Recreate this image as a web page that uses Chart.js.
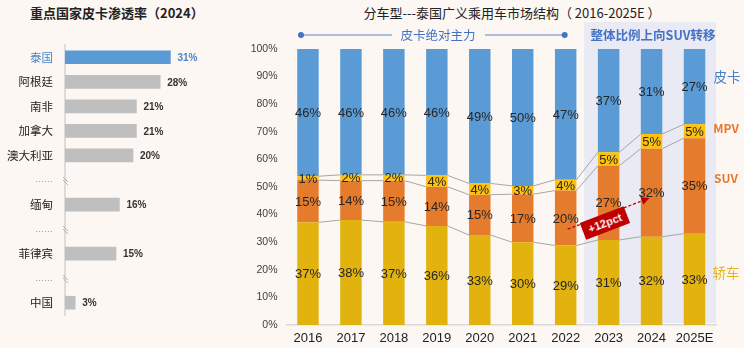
<!DOCTYPE html>
<html>
<head>
<meta charset="utf-8">
<script src="https://cdn.jsdelivr.net/npm/chart.js@4.4.1/dist/chart.umd.min.js"></script>
<style>
  html, body { margin: 0; padding: 0; background: #fdf7f3; }
  body { width: 744px; height: 348px; position: relative; overflow: hidden;
         font-family: "Noto Sans CJK SC", "Liberation Sans", sans-serif; }
  .abs { position: absolute; white-space: nowrap; line-height: 1; }
  #leftWrap { position: absolute; left: 0; top: 0; width: 240px; height: 348px; }
  #rightWrap { position: absolute; left: 240px; top: 0; width: 504px; height: 348px; }
  .side { font-size: 13.5px; transform: translate(-50%, -50%); }
</style>
</head>
<body>
<div class="abs" style="left:30px;top:6px;font-size:13px;font-weight:bold;color:#222;">重点国家皮卡渗透率（2024）</div>
<div class="abs" style="left:512px;top:6px;font-size:13px;color:#222;transform:translateX(-50%);">分车型---泰国广义乘用车市场结构（ 2016-2025E ）</div>

<div id="leftWrap"><canvas id="left"></canvas></div>
<div id="rightWrap"><canvas id="right"></canvas></div>

<div class="abs" style="left:438px;top:35px;font-size:12.5px;color:#4472c4;transform:translate(-50%,-50%);">皮卡绝对主力</div>
<div class="abs" style="left:653px;top:35px;font-size:12.5px;font-weight:bold;color:#4472c4;transform:translate(-50%,-50%);">整体比例上向SUV转移</div>

<div class="abs side" style="left:727px;top:77px;color:#4a7fc1;">皮卡</div>
<div class="abs side" style="left:726px;top:128px;color:#e8772e;font-weight:bold;font-size:12px;">MPV</div>
<div class="abs side" style="left:726px;top:178px;color:#e8772e;font-weight:bold;font-size:12px;">SUV</div>
<div class="abs side" style="left:726px;top:273px;color:#e6b31e;">轿车</div>

<div class="abs" style="left:605px;top:223px;transform:translate(-50%,-50%) rotate(-21deg);background:#c00000;color:#fff;font:bold 11px 'Liberation Sans',sans-serif;padding:3px 6px;">+12pct</div>

<script>
// left panel: pickup penetration 2024
const countries = ['泰国', '阿根廷', '南非', '加拿大', '澳大利亚', '……', '缅甸', '……', '菲律宾', '……', '中国'];
const penetration = [31, 28, 21, 21, 20, null, 16, null, 15, null, 3];

// right panel: Thailand passenger vehicle mix
const years = ['2016', '2017', '2018', '2019', '2020', '2021', '2022', '2023', '2024', '2025E'];
const sedan  = [37.2, 38.0, 37.4, 35.9, 32.6, 30.0, 28.8, 30.8, 32.0, 33.1];
const suv    = [15.3, 14.3, 14.9, 14.2, 14.6, 17.4, 19.9, 26.9, 31.9, 34.6];
const mpv    = [1.4, 2.1, 2.1, 4.1, 4.1, 3.0, 3.9, 4.9, 5.3, 5.0];
const pickup = [46.1, 45.6, 45.6, 45.8, 48.7, 49.6, 47.4, 37.4, 30.8, 27.3];
const yTicks = [0, 10, 20, 30, 40, 50, 60, 70, 80, 90, 100];

const isGap = i => penetration[i] === null;

const leftLabels = {
    id: 'leftLabels',
    afterDatasetsDraw(chart) {
        const ctx = chart.ctx;
        const meta = chart.getDatasetMeta(0);
        const x0 = chart.scales.x.getPixelForValue(0);
        ctx.save();
        ctx.font = 'bold 10px "Liberation Sans"';
        ctx.textBaseline = 'middle';
        meta.data.forEach((bar, i) => {
            if (isGap(i)) {
                // axis break marks
                const y = bar.y;
                ctx.strokeStyle = '#b0b0b0';
                ctx.lineWidth = 1;
                ctx.beginPath();
                ctx.moveTo(x0 - 2, y - 3); ctx.lineTo(x0 + 3, y + 2);
                ctx.moveTo(x0 - 2, y);     ctx.lineTo(x0 + 3, y + 5);
                ctx.stroke();
                return;
            }
            ctx.fillStyle = i === 0 ? '#4a86c8' : '#333';
            ctx.fillText(penetration[i] + '%', bar.x + 7, bar.y + 1);
        });
        ctx.restore();
    }
};

new Chart(document.getElementById('left'), {
    type: 'bar',
    data: {
        labels: countries,
        datasets: [{
            data: penetration,
            backgroundColor: penetration.map((v, i) => i === 0 ? '#5b9bd5' : '#bfbfbf'),
            barThickness: 13
        }]
    },
    options: {
        indexAxis: 'y',
        responsive: true,
        maintainAspectRatio: false,
        animation: false,
        layout: { padding: { top: 45, bottom: 33, right: 5 } },
        plugins: { legend: { display: false }, tooltip: { enabled: false } },
        scales: {
            x: { display: false, min: 0, max: 50 },
            y: {
                afterFit(scale) { scale.width = 65; },
                grid: { display: false, drawTicks: false },
                border: { display: true, color: '#dcdcdc', width: 2 },
                ticks: {
                    padding: 12,
                    font: ctx => isGap(ctx.index) ? { size: 9, family: '"Liberation Sans"' } : { size: 11.5, family: '"Noto Sans CJK SC"' },
                    color: ctx => ctx.index === 0 ? '#4a86c8' : (isGap(ctx.index) ? '#999' : '#222')
                }
            }
        }
    },
    plugins: [leftLabels]
});

const extras = {
    id: 'extras',
    beforeDatasetsDraw(chart) {
        const { ctx, chartArea, scales: { x } } = chart;
        const left = (x.getPixelForValue(6) + x.getPixelForValue(7)) / 2 - 3;
        ctx.save();
        ctx.fillStyle = '#e9eaf3';
        ctx.fillRect(left, chartArea.top - 27, chartArea.right - left, chartArea.bottom - chartArea.top + 25);
        // "pickup dominant" bracket line
        const y = 35;
        const a = x.getPixelForValue(0) - 7, b = x.getPixelForValue(6) - 1;
        ctx.strokeStyle = '#8faadc';
        ctx.lineWidth = 1.5;
        ctx.beginPath();
        ctx.moveTo(a, y); ctx.lineTo(152, y);
        ctx.moveTo(245, y); ctx.lineTo(b, y);
        ctx.stroke();
        ctx.fillStyle = '#4472c4';
        [a, b].forEach(px => { ctx.beginPath(); ctx.arc(px, y, 3, 0, Math.PI * 2); ctx.fill(); });
        ctx.restore();
    },
    afterDatasetsDraw(chart) {
        const { ctx, scales: { x, y } } = chart;
        ctx.save();
        // connector lines between stacked tops
        ctx.strokeStyle = '#a6a6a6';
        ctx.lineWidth = 1;
        for (let d = 0; d < 3; d++) {
            const bars = chart.getDatasetMeta(d).data;
            for (let i = 0; i < bars.length - 1; i++) {
                ctx.beginPath();
                ctx.moveTo(bars[i].x + bars[i].width / 2, bars[i].y);
                ctx.lineTo(bars[i + 1].x - bars[i + 1].width / 2, bars[i + 1].y);
                ctx.stroke();
            }
        }
        // value labels
        ctx.font = '13px "Liberation Sans"';
        ctx.fillStyle = '#262626';
        ctx.textAlign = 'center';
        ctx.textBaseline = 'middle';
        chart.data.datasets.forEach((ds, d) => {
            chart.getDatasetMeta(d).data.forEach((bar, i) => {
                ctx.fillText(Math.round(ds.data[i]) + '%', bar.x, (bar.y + bar.base) / 2 + 1);
            });
        });
        // +12pct arrow
        const x1 = x.getPixelForValue(6) + 2, y1 = y.getPixelForValue(34.7);
        const x2 = x.getPixelForValue(8) - 5, y2 = y.getPixelForValue(45.6);
        ctx.strokeStyle = '#c00000';
        ctx.fillStyle = '#c00000';
        ctx.lineWidth = 1.3;
        ctx.setLineDash([3, 2]);
        ctx.beginPath();
        ctx.moveTo(x1, y1); ctx.lineTo(x2, y2);
        ctx.stroke();
        ctx.setLineDash([]);
        const ang = Math.atan2(y2 - y1, x2 - x1);
        ctx.translate(x2, y2);
        ctx.rotate(ang);
        ctx.beginPath();
        ctx.moveTo(3, 0); ctx.lineTo(-5, -4); ctx.lineTo(-5, 4);
        ctx.closePath();
        ctx.fill();
        ctx.restore();
    }
};

new Chart(document.getElementById('right'), {
    type: 'bar',
    data: {
        labels: years,
        datasets: [
            { label: '轿车', data: sedan, backgroundColor: '#e2b30e' },
            { label: 'SUV', data: suv, backgroundColor: '#e57b2c' },
            { label: 'MPV', data: mpv, backgroundColor: '#fec20a' },
            { label: '皮卡', data: pickup, backgroundColor: '#5b9bd5' }
        ]
    },
    options: {
        responsive: true,
        maintainAspectRatio: false,
        animation: false,
        datasets: { bar: { barPercentage: 0.5, categoryPercentage: 1 } },
        layout: { padding: { top: 49, right: 28 } },
        plugins: { legend: { display: false }, tooltip: { enabled: false } },
        scales: {
            x: {
                stacked: true,
                afterFit(scale) { scale.height = 23; },
                grid: { display: false, drawTicks: false },
                border: { color: '#d9d9d9', width: 1.5 },
                ticks: {
                    padding: 6, maxRotation: 0, minRotation: 0, autoSkip: false,
                    color: '#222', font: { size: 13, family: '"Liberation Sans"' }
                }
            },
            y: {
                stacked: true,
                min: 0,
                max: 100,
                afterFit(scale) { scale.width = 46.5; },
                afterBuildTicks(scale) { scale.ticks = yTicks.map(v => ({ value: v })); },
                grid: { display: false, drawTicks: false },
                border: { display: false },
                ticks: {
                    padding: 9,
                    color: '#404040',
                    font: { size: 10.5, family: '"Liberation Sans"' },
                    callback: v => v + '%'
                }
            }
        }
    },
    plugins: [extras]
});
</script>
</body>
</html>
